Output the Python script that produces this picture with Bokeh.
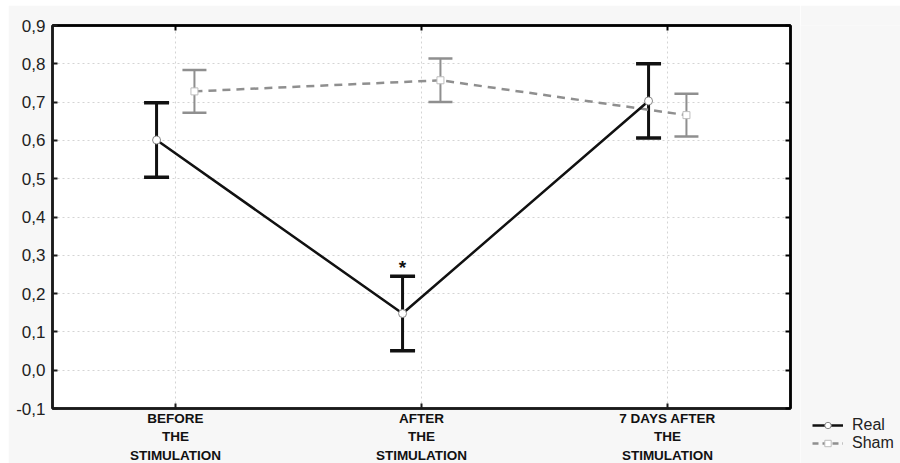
import numpy as np
from bokeh.plotting import figure
from bokeh.layouts import row, column
from bokeh.models import (FactorRange, Range1d, FixedTicker, Whisker, TeeHead, Spacer,
                          ColumnDataSource, Legend, LegendItem, LinearAxis, CategoricalAxis)
from bokeh.transform import dodge
from bokeh.core.properties import value
from bokeh.embed import file_html
from bokeh.resources import INLINE

# ---- data ----
categories = ["BEFORE\nTHE\nSTIMULATION", "AFTER\nTHE\nSTIMULATION", "7 DAYS AFTER\nTHE\nSTIMULATION"]
real_mean = [0.601, 0.148, 0.703]
real_err = [0.097, 0.097, 0.097]
sham_mean = [0.728, 0.757, 0.666]
sham_err = [0.056, 0.057, 0.056]
y_ticks = [-0.1, 0.0, 0.1, 0.2, 0.3, 0.4, 0.5, 0.6, 0.7, 0.8, 0.9]
y_tick_labels = ["-0,1", "0,0", "0,1", "0,2", "0,3", "0,4", "0,5", "0,6", "0,7", "0,8", "0,9"]
signif_marks = ["", "*", ""]
series_names = ["Real", "Sham"]

real_src = ColumnDataSource(dict(
    x=categories, y=real_mean,
    lower=[m - e for m, e in zip(real_mean, real_err)],
    upper=[m + e for m, e in zip(real_mean, real_err)],
    mark=signif_marks))
sham_src = ColumnDataSource(dict(
    x=categories, y=sham_mean,
    lower=[m - e for m, e in zip(sham_mean, sham_err)],
    upper=[m + e for m, e in zip(sham_mean, sham_err)]))

BG = "#f7f7f7"
DOFF = 0.077
BLACK = "#111111"
GREY = "#8f8f8f"

p = figure(frame_width=738, frame_height=383,
           x_range=FactorRange(*categories), y_range=Range1d(-0.1, 0.9),
           output_backend="svg", toolbar_location=None,
           min_border_left=44, min_border_right=10, min_border_top=20, min_border_bottom=55)
p.border_fill_color = BG
p.background_fill_color = "white"
p.outline_line_color = "#1a1a1a"
p.outline_line_width = 2.5

# axes styling
p.yaxis.ticker = FixedTicker(ticks=y_ticks)
p.yaxis.major_label_overrides = {t: l for t, l in zip(y_ticks, y_tick_labels)}
for ax in (p.xaxis[0], p.yaxis[0]):
    ax.axis_line_width = 2.5
    ax.axis_line_color = "#1a1a1a"
    ax.major_tick_in = 5
    ax.major_tick_out = 0
    ax.major_tick_line_width = 2
    ax.major_tick_line_color = "#1a1a1a"
    ax.minor_tick_line_color = None
p.yaxis.major_label_text_font = "Liberation Sans"
p.yaxis.major_label_text_font_size = "17px"
p.yaxis.major_label_text_color = "#222222"
p.yaxis.major_label_standoff = 7
p.xaxis.major_label_text_font = "Liberation Sans"
p.xaxis.major_label_text_font_style = "bold"
p.xaxis.major_label_text_font_size = "13.5px"
p.xaxis.major_label_text_line_height = 1.25
p.xaxis.major_label_text_color = "#111111"
p.xaxis.major_label_standoff = 2
p.xaxis.major_label_orientation = "horizontal"

# right / top axes for box ticks
ra = LinearAxis(ticker=FixedTicker(ticks=y_ticks), major_label_text_font_size="0px",
                major_tick_in=5, major_tick_out=0, major_tick_line_width=2,
                axis_line_width=2.5, minor_tick_line_color=None, major_label_standoff=0)
p.add_layout(ra, "right")
ta = CategoricalAxis(major_label_text_font_size="0px", major_tick_in=5, major_tick_out=0,
                     major_tick_line_width=2, axis_line_width=2.5, major_label_standoff=0)
p.add_layout(ta, "above")

# grid
p.xgrid.grid_line_color = "#d4d4d4"
p.xgrid.grid_line_dash = "2 3"
p.xgrid.grid_line_width = 1
p.ygrid.grid_line_color = "#d4d4d4"
p.ygrid.grid_line_dash = "2 3"
p.ygrid.grid_line_width = 1
p.ygrid.ticker = FixedTicker(ticks=y_ticks[1:-1])

SHAM_LINE = dict(line_color=GREY, line_width=2.5, line_dash="6 4")
SHAM_PT = dict(marker="square", size=7, fill_color="white", line_color="#bdbdbd", line_width=1)
REAL_LINE = dict(line_color=BLACK, line_width=2.5)
REAL_PT = dict(marker="circle", size=8, fill_color="white", line_color="#888888", line_width=1)

# sham series
p.line(x=dodge("x", DOFF, range=p.x_range), y="y", source=sham_src,
       line_color=GREY, line_width=2.5, line_dash="8 6")
p.add_layout(Whisker(base=dodge("x", DOFF, range=p.x_range), lower="lower", upper="upper",
                     source=sham_src, line_color=GREY, line_width=2,
                     upper_head=TeeHead(size=24, line_color=GREY, line_width=2.5),
                     lower_head=TeeHead(size=24, line_color=GREY, line_width=2.5)))
p.scatter(x=dodge("x", DOFF, range=p.x_range), y="y", source=sham_src, **SHAM_PT)

# real series
p.line(x=dodge("x", -DOFF, range=p.x_range), y="y", source=real_src, **REAL_LINE)
p.add_layout(Whisker(base=dodge("x", -DOFF, range=p.x_range), lower="lower", upper="upper",
                     source=real_src, line_color=BLACK, line_width=3,
                     upper_head=TeeHead(size=25, line_color=BLACK, line_width=3.5),
                     lower_head=TeeHead(size=25, line_color=BLACK, line_width=3.5)))
p.scatter(x=dodge("x", -DOFF, range=p.x_range), y="y", source=real_src, **REAL_PT)

# significance mark
p.text(x=dodge("x", -DOFF, range=p.x_range), y="upper", text="mark", source=real_src,
       text_font=value("Liberation Sans"), text_font_size="19px", text_font_style="bold",
       text_align="center", text_baseline="bottom", y_offset=2, text_color=BLACK)

# ---- legend panel (separate figure at the right) ----
lg = figure(frame_width=100, frame_height=458, x_range=Range1d(0, 1), y_range=Range1d(0, 1),
            output_backend="svg", toolbar_location=None,
            min_border_left=0, min_border_right=0, min_border_top=0, min_border_bottom=0)
lg.axis.visible = False
lg.grid.visible = False
lg.outline_line_color = None
lg.background_fill_color = BG
lg.border_fill_color = BG
# legend-only renderers: a single missing (NaN) point, so nothing is drawn in the panel
blank = ColumnDataSource(dict(x=[np.nan], y=[np.nan]))
lr_line = lg.line(x="x", y="y", source=blank, **REAL_LINE)
lr_pt = lg.scatter(x="x", y="y", source=blank, **REAL_PT)
ls_line = lg.line(x="x", y="y", source=blank, **SHAM_LINE)
ls_pt = lg.scatter(x="x", y="y", source=blank, **SHAM_PT)
legend = Legend(items=[LegendItem(label=series_names[0], renderers=[lr_line, lr_pt]),
                       LegendItem(label=series_names[1], renderers=[ls_line, ls_pt])],
                location=(12, 11), background_fill_alpha=0, border_line_alpha=0,
                label_text_font="Liberation Sans", label_text_font_size="16px",
                label_text_color="#222222", glyph_width=31, glyph_height=16,
                label_height=16, spacing=0, padding=0, margin=0, label_standoff=9)
lg.add_layout(legend)

layout = row(Spacer(width=8), column(Spacer(height=5), row(p, lg)))
open("out.html", "w").write(file_html(layout, INLINE))
